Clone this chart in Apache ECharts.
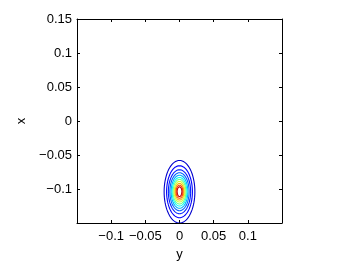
<!DOCTYPE html>
<html>
<head>
<meta charset="utf-8">
<script src="https://cdn.jsdelivr.net/npm/echarts@6/dist/echarts.min.js"></script>
<style>
  html, body { margin: 0; padding: 0; background: #fff; }
  #chart { width: 346px; height: 261px; }
</style>
</head>
<body>
<div id="chart"></div>
<script>
// contour levels: centre, half-width (y axis), half-height (x axis)
const centerY = 0;
const centerX = -0.104;
const halfWidths  = [0.0225, 0.0189, 0.0163, 0.0141, 0.0122, 0.0107, 0.0093, 0.0078, 0.0063, 0.0049, 0.0035];
const halfHeights = [0.0460, 0.0382, 0.0323, 0.0279, 0.0243, 0.0210, 0.0181, 0.0151, 0.0122, 0.0096, 0.0071];
const levelColors = ['#0000cc', '#0000ff', '#0020ff', '#0060ff', '#00b0ff', '#10ffef',
                     '#70ff90', '#d0ff30', '#ffb000', '#ff4000', '#c00000'];

const chart = echarts.init(document.getElementById('chart'));

const font = 'Liberation Sans, Arial, sans-serif';
// x ticks: hide the ±0.15 end labels
const fmtX = v => {
  const r = Math.round(v * 100) / 100;
  if (Math.abs(r) > 0.149) return '';
  return String(r).replace('-', '\u2212');
};
// y ticks: hide only the bottom one
const fmtY = v => {
  const r = Math.round(v * 100) / 100;
  if (r < -0.149) return '';
  return String(r).replace('-', '\u2212');
};

const axisCommon = {
  type: 'value',
  min: -0.15,
  max: 0.15,
  interval: 0.05,
  splitLine: { show: false },
  axisLine: { show: true, onZero: false, lineStyle: { color: '#000', width: 1 } },
  axisTick: { show: true, inside: true, length: 3, lineStyle: { color: '#000' } }
};

chart.setOption({
  animation: false,
  grid: { left: 77, right: 64, top: 19, bottom: 38, outerBoundsMode: 'none', containLabel: false },
  xAxis: [
    Object.assign({}, axisCommon, {
      position: 'bottom',
      name: 'y',
      nameLocation: 'middle',
      nameGap: 22,
      nameTextStyle: { fontFamily: font, fontSize: 13, color: '#000' },
      axisLabel: { formatter: fmtX, margin: 7, fontFamily: font, fontSize: 13, color: '#000' }
    }),
    Object.assign({}, axisCommon, {
      position: 'top',
      axisLabel: { show: false }
    })
  ],
  yAxis: [
    Object.assign({}, axisCommon, {
      position: 'left',
      name: 'x',
      nameLocation: 'middle',
      nameGap: 46,
      nameRotate: 90,
      nameTextStyle: { fontFamily: font, fontSize: 13, color: '#000' },
      axisLabel: { formatter: fmtY, margin: 5, fontFamily: font, fontSize: 13, color: '#000',
        showMinLabel: true, showMaxLabel: true }
    }),
    Object.assign({}, axisCommon, {
      position: 'right',
      axisLabel: { show: false }
    })
  ],
  series: [{
    type: 'custom',
    clip: true,
    xAxisIndex: 0,
    yAxisIndex: 0,
    data: halfWidths.map((w, i) => [centerY, centerX, w, halfHeights[i], i]),
    renderItem: (params, api) => {
      const cx = api.value(0), cy = api.value(1), rx = api.value(2), ry = api.value(3);
      const idx = api.value(4);
      const pts = [];
      const n = 72;
      for (let k = 0; k <= n; k++) {
        const t = k / n * Math.PI * 2;
        pts.push(api.coord([cx + rx * Math.cos(t), cy + ry * Math.sin(t)]));
      }
      return {
        type: 'polyline',
        shape: { points: pts },
        style: { stroke: levelColors[idx], fill: null, lineWidth: 1.1 }
      };
    }
  }]
});
</script>
</body>
</html>
